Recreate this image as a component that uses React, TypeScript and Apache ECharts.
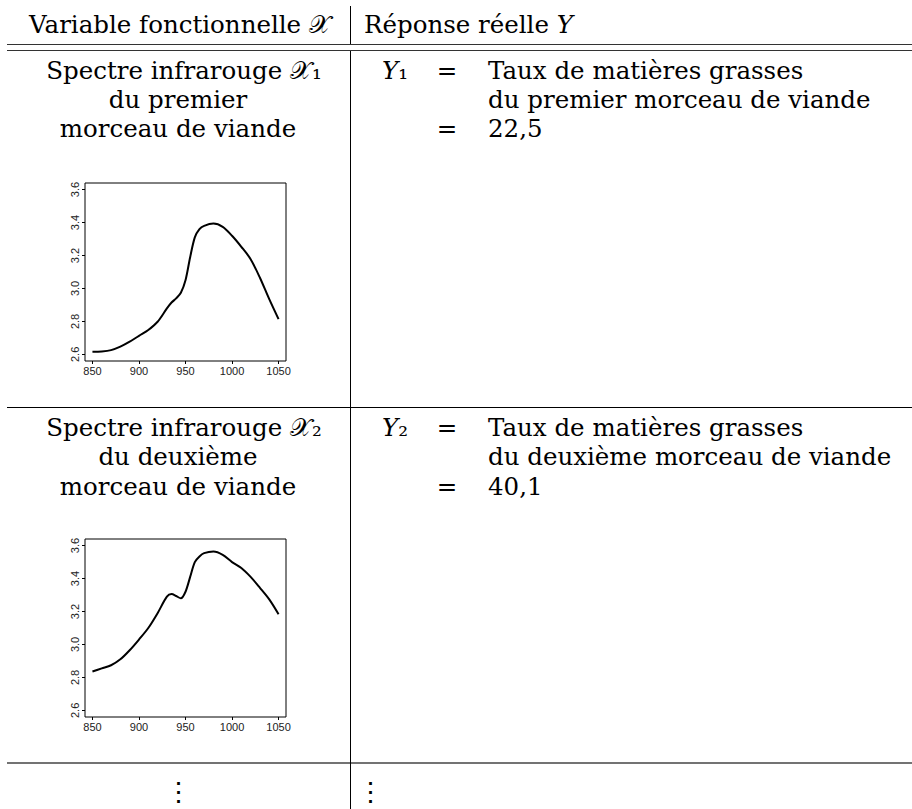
import React, { useEffect, useRef } from 'react';
import * as echarts from 'echarts';

// ---- data ----
const wavelengths = [850, 860, 870, 880, 890, 900, 910, 920, 930, 935, 940, 945, 950, 955, 960, 965, 970, 980, 990, 1000, 1010, 1020, 1030, 1040, 1050];
const spectrum1 = [2.616, 2.618, 2.626, 2.647, 2.677, 2.713, 2.748, 2.798, 2.879, 2.915, 2.94, 2.974, 3.05, 3.19, 3.31, 3.36, 3.38, 3.394, 3.374, 3.32, 3.253, 3.178, 3.065, 2.935, 2.814];
const spectrum2 = [2.836, 2.855, 2.874, 2.91, 2.965, 3.03, 3.1, 3.19, 3.29, 3.306, 3.294, 3.28, 3.32, 3.41, 3.5, 3.534, 3.554, 3.564, 3.544, 3.5, 3.464, 3.41, 3.344, 3.274, 3.184];
const xTicks = [850, 900, 950, 1000, 1050];
const yTicks = [2.6, 2.8, 3.0, 3.2, 3.4, 3.6];

// ---- table text (rich-text markup: n = roman, it = italic) ----
const headerLeft = '{n|Variable fonctionnelle 𝒳}';
const headerRight = '{n|Réponse réelle }{it|Y}';
const row1Left = ['{n|Spectre infrarouge 𝒳₁}', '{n|du premier}', '{n|morceau de viande}'];
const row2Left = ['{n|Spectre infrarouge 𝒳₂}', '{n|du deuxième}', '{n|morceau de viande}'];
const row1Var = '{it|Y}{n|₁}';
const row2Var = '{it|Y}{n|₂}';
const row1Right = ['{n|Taux de matières grasses}', '{n|du premier morceau de viande}'];
const row2Right = ['{n|Taux de matières grasses}', '{n|du deuxième morceau de viande}'];
const row1Value = '{n|22,5}';
const row2Value = '{n|40,1}';
const equalsSign = '{n|=}';
const vdots = '{d|⋮}';

const SERIF = 'DejaVu Serif';
const FS = 24.5;

function txt(text: string, x: number, y: number, align: string = 'left') {
  return {
    type: 'text',
    silent: true,
    style: {
      text,
      x,
      y,
      align,
      textAlign: align,
      verticalAlign: 'middle',
      textVerticalAlign: 'middle',
      fontFamily: SERIF,
      fontSize: FS,
      fill: '#000',
      rich: {
        n: { fontFamily: SERIF, fontSize: FS, fontStyle: 'normal', fill: '#000' },
        it: { fontFamily: SERIF, fontSize: FS, fontStyle: 'italic', fill: '#000' },
        d: { fontFamily: SERIF, fontSize: 27, fill: '#000' },
      },
    },
  };
}

function hline(y: number, x1: number, x2: number, color = '#000', w = 1) {
  return { type: 'line', silent: true, shape: { x1, y1: y, x2, y2: y }, style: { stroke: color, lineWidth: w } };
}
function vline(x: number, y1: number, y2: number, color = '#000', w = 1) {
  return { type: 'line', silent: true, shape: { x1: x, y1, x2: x, y2 }, style: { stroke: color, lineWidth: w } };
}

export default function App() {
  const ref = useRef<HTMLDivElement>(null);
  useEffect(() => {
    if (!ref.current) return;
    const chart = echarts.init(ref.current, null, { renderer: 'svg' });

    const gridDefs = [
      { left: 85, top: 183, width: 201, height: 178 },
      { left: 85, top: 539, width: 201, height: 178 },
    ];
    const axisFont = { fontFamily: 'Liberation Sans', fontSize: 11, color: '#222' };

    const xAxes = gridDefs.map((_, i) => ({
      type: 'value',
      gridIndex: i,
      min: 842,
      max: 1058,
      axisLine: { show: false },
      splitLine: { show: false },
      axisTick: { show: true, length: 3, inside: false, customValues: xTicks, lineStyle: { color: '#000' } },
      axisLabel: { ...axisFont, margin: 4, customValues: xTicks, formatter: (v: number) => String(v) },
    }));
    const yAxes = gridDefs.map((_, i) => ({
      type: 'value',
      gridIndex: i,
      min: 2.56,
      max: 3.64,
      axisLine: { show: false },
      splitLine: { show: false },
      axisTick: { show: true, length: 3, inside: false, customValues: yTicks, lineStyle: { color: '#000' } },
      axisLabel: { ...axisFont, margin: 5, rotate: 90, customValues: yTicks, formatter: (v: number) => v.toFixed(1) },
    }));

    const mkData = (ys: number[]) => wavelengths.map((w, i) => [w, ys[i]]);

    const rowY1 = [70, 99, 128];
    const rowY2 = [427, 456, 486];
    const leftCx = 178;
    const leftCenters = [184, 178, 178];

    const graphics: any[] = [
      hline(44.5, 7, 912, '#333', 1),
      hline(50.5, 7, 912, '#333', 1),
      hline(407.5, 7, 912, '#000', 1),
      hline(763, 7, 912, '#444', 1.5),
      vline(350.5, 6, 44, '#000', 1),
      vline(350.5, 51, 809, '#000', 1),
      txt(headerLeft, 180, 24, 'center'),
      txt(headerRight, 364, 24, 'left'),
    ];

    const addRow = (left: string[], ys: number[], v: string, right: string[], value: string) => {
      left.forEach((t, i) => graphics.push(txt(t, leftCenters[i], ys[i], 'center')));
      graphics.push(txt(v, 382, ys[0], 'left'));
      graphics.push(txt(equalsSign, 447, ys[0], 'center'));
      graphics.push(txt(right[0], 488, ys[0], 'left'));
      graphics.push(txt(right[1], 488, ys[1], 'left'));
      graphics.push(txt(equalsSign, 447, ys[2], 'center'));
      graphics.push(txt(value, 488, ys[2], 'left'));
    };
    addRow(row1Left, rowY1, row1Var, row1Right, row1Value);
    addRow(row2Left, rowY2, row2Var, row2Right, row2Value);

    graphics.push(txt(vdots, leftCx, 791, 'center'));
    graphics.push(txt(vdots, 370, 791, 'center'));

    chart.setOption({
      animation: false,
      backgroundColor: '#fff',
      grid: gridDefs.map((g) => ({ ...g, show: true, borderColor: '#000', borderWidth: 1, backgroundColor: 'transparent' })),
      xAxis: xAxes,
      yAxis: yAxes,
      series: [
        { type: 'line', xAxisIndex: 0, yAxisIndex: 0, data: mkData(spectrum1), showSymbol: false, symbol: 'none', smooth: 0.3, lineStyle: { color: '#000', width: 2 } },
        { type: 'line', xAxisIndex: 1, yAxisIndex: 1, data: mkData(spectrum2), showSymbol: false, symbol: 'none', smooth: 0.3, lineStyle: { color: '#000', width: 2 } },
      ],
      graphic: graphics,
    });
    return () => chart.dispose();
  }, []);

  return <div ref={ref} style={{ position: 'absolute', left: 0, top: 0, width: 912, height: 809 }} />;
}
